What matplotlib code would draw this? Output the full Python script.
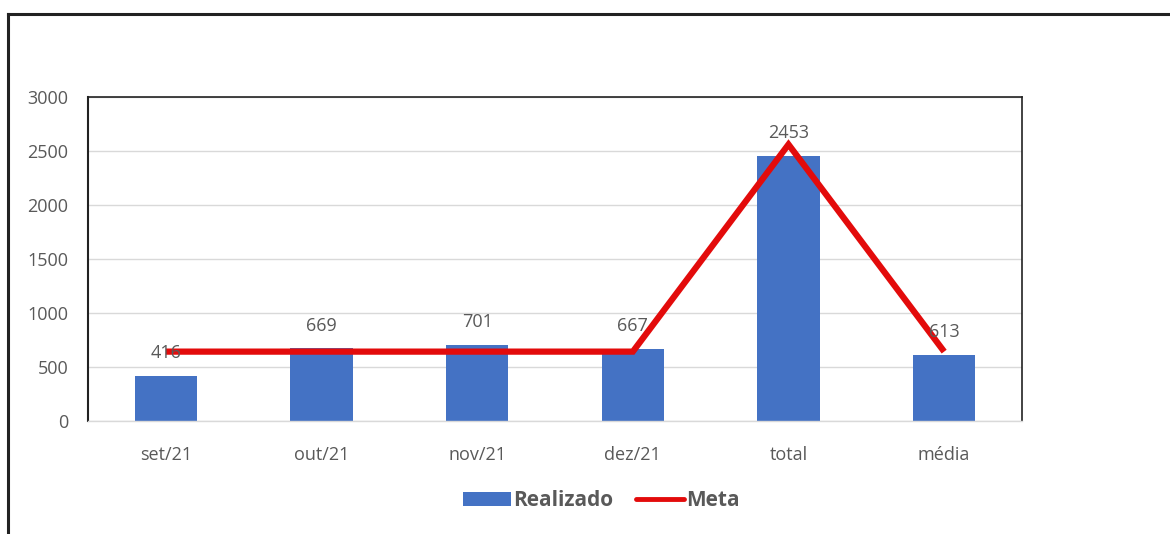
import matplotlib
matplotlib.use("Agg")
import matplotlib.pyplot as plt
from matplotlib.lines import Line2D
from matplotlib.patches import Patch

categories = ["set/21", "out/21", "nov/21", "dez/21", "total", "média"]
realizado = [416, 669, 701, 667, 2453, 613]
meta = [640, 640, 640, 640, 2560, 640]
yticks = [0, 500, 1000, 1500, 2000, 2500, 3000]

BLUE = "#4472C4"
RED = "#E30B0B"
TXT = "#595959"
GRID = "#D9D9D9"

plt.rcParams["font.family"] = ["Open Sans", "DejaVu Sans"]

fig = plt.figure(figsize=(11.7, 5.34), dpi=100)
ax = fig.add_axes([0.0752, 0.2122, 0.7983, 0.6062])

x = list(range(len(categories)))
ax.bar(x, realizado, width=0.4, color=BLUE, zorder=2)
ax.plot(x, meta, color=RED, lw=4.5, solid_joinstyle="miter", solid_capstyle="butt", zorder=3)

for xi, v in zip(x, realizado):
    ax.annotate(str(v), (xi, v), xytext=(0, 16.5), textcoords="offset points",
                ha="center", va="center", fontsize=13, color=TXT, zorder=4)

ax.set_xlim(-0.5, len(categories) - 0.5)
ax.set_ylim(0, 3000)
ax.set_yticks(yticks)
ax.set_yticklabels([str(t) for t in yticks])
ax.set_xticks(x)
ax.set_xticklabels(categories)
ax.tick_params(axis="both", length=0, labelsize=13, labelcolor=TXT)
ax.tick_params(axis="x", pad=18)
ax.tick_params(axis="y", pad=14)
ax.yaxis.grid(True, color=GRID, lw=1, zorder=0)
ax.set_axisbelow(True)

for s in ["left", "top", "right"]:
    ax.spines[s].set_color("#222222")
ax.spines["left"].set_linewidth(1.5)
ax.spines["top"].set_linewidth(1.2)
ax.spines["right"].set_linewidth(1.2)
ax.spines["bottom"].set_color(GRID)
ax.spines["bottom"].set_linewidth(1)

handles = [Patch(facecolor=BLUE, edgecolor="none"),
           Line2D([0], [0], color=RED, lw=3.5, solid_capstyle="round")]
leg = fig.legend(handles, ["Realizado", "Meta"], loc="center", bbox_to_anchor=(0.514, 0.062),
                 ncol=2, frameon=False, handlelength=2.3, handleheight=0.7, handletextpad=0.1,
                 columnspacing=1.1, prop={"weight": "bold", "size": 15})
for t in leg.get_texts():
    t.set_color(TXT)

fig.add_artist(Line2D([0.0068, 1.0], [0.9738, 0.9738], transform=fig.transFigure, color="#222222", lw=2.2))
fig.add_artist(Line2D([0.0068, 0.0068], [0.0, 0.9738], transform=fig.transFigure, color="#222222", lw=2.2))

fig.savefig("out.png", dpi=100)
